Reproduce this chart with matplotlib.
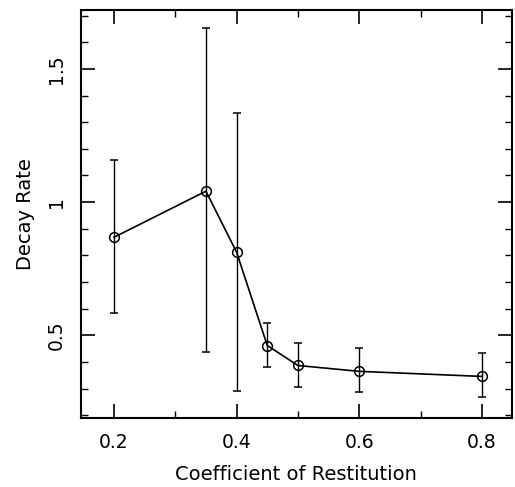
import numpy as np
import matplotlib
matplotlib.use('Agg')
import matplotlib.pyplot as plt
from matplotlib.ticker import MultipleLocator

# coefficient of restitution vs decay rate
restitution = [0.2, 0.35, 0.4, 0.45, 0.5, 0.6, 0.8]
decay_rate = [0.868, 1.041, 0.812, 0.462, 0.387, 0.365, 0.346]
err_upper = [1.158, 1.654, 1.335, 0.545, 0.470, 0.451, 0.432]
err_lower = [0.583, 0.436, 0.290, 0.380, 0.305, 0.286, 0.267]

plt.rcParams['font.family'] = ['DejaVu Sans']

fig = plt.figure(figsize=(5.15, 4.87), dpi=100)
ax = fig.add_axes([0.157, 0.1417, 0.837, 0.8373])

yerr = np.array([np.array(decay_rate) - np.array(err_lower),
                 np.array(err_upper) - np.array(decay_rate)])
ax.errorbar(restitution, decay_rate, yerr=yerr, color='black', lw=1.2,
            elinewidth=1.0, capsize=3, capthick=1.0,
            marker='o', ms=7, mfc='none', mec='black', mew=1.1)

ax.set_xlim(0.146, 0.849)
ax.set_ylim(0.19, 1.72)
ax.xaxis.set_minor_locator(MultipleLocator(0.1))
ax.yaxis.set_minor_locator(MultipleLocator(0.1))
ax.set_xticks([0.2, 0.4, 0.6, 0.8])
ax.set_xticklabels(['0.2', '0.4', '0.6', '0.8'])
ax.set_yticks([0.5, 1.0, 1.5])
ax.set_yticklabels(['0.5', '1', '1.5'], rotation=90, va='center')
ax.tick_params(which='both', direction='in', top=True, right=True, labelsize=13.5)
ax.tick_params(axis='x', pad=11)
ax.tick_params(axis='y', pad=11)
ax.tick_params(which='major', length=10, width=1.2)
ax.tick_params(which='minor', length=5, width=1.0)
for s in ax.spines.values():
    s.set_linewidth(1.5)

ax.set_xlabel('Coefficient of Restitution', fontsize=14, labelpad=9)
ax.set_ylabel('Decay Rate', fontsize=14, labelpad=8)

fig.savefig('out.png', dpi=100)
